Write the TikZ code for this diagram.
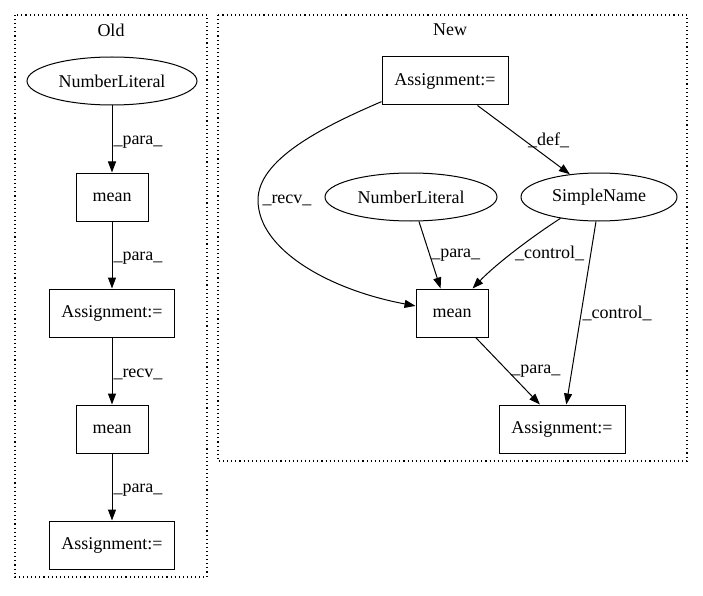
\documentclass[tikz,border=0pt]{standalone}
\usepackage{fontspec}
\setmainfont{Liberation Serif}
\usetikzlibrary{arrows.meta,shapes.geometric}
\tikzset{
	box/.style={draw, rectangle, minimum height=48pt, inner sep=2pt, line width=1pt},
	ellip/.style={draw, ellipse, minimum height=48pt, inner sep=1pt, line width=1pt},
	conn/.style={-{Triangle[length=11pt,width=8pt]}, line width=1pt},
	lbl/.style={inner sep=1pt},
	cluster/.style={line width=1.1pt, dash pattern=on 1.1pt off 3pt}
}
\begin{document}
\begin{tikzpicture}[x=1pt, y=-1pt, font=\fontsize{18}{20}\selectfont]
		\useasboundingbox (0,0) rectangle (703,596);
		
		% zeichne Cluster
		\draw[cluster] (15,15) rectangle (207,577);
		\draw[cluster] (218,15) rectangle (687,461);
		\node (oldtitle) at (111,30) {Old};
		\node (newtitle) at (450,30) {New};
		
		% Knoten alt
		\node[ellip, minimum width=170pt] (oldnum) at (112,81) {NumberLiteral};
		\node[box, minimum width=72pt] (oldmeanA) at (112,197) {mean};
		\node[box, minimum width=125pt] (oldassignA) at (112,313) {Assignment:=};
		\node[box, minimum width=72pt] (oldmeanB) at (112,429) {mean};
		\node[box, minimum width=125pt] (oldassignB) at (112,545) {Assignment:=};
		
		% Kanten alt
		\draw[conn] (oldnum) -- (oldmeanA) node[lbl, right, pos=0.55] {\_para\_};
		\draw[conn] (oldmeanA) -- (oldassignA) node[lbl, right, pos=0.55] {\_para\_};
		\draw[conn] (oldassignA) -- (oldmeanB) node[lbl, right, pos=0.55] {\_recv\_};
		\draw[conn] (oldmeanB) -- (oldassignB) node[lbl, right, pos=0.55] {\_para\_};
		
		% Knoten neu
		\node[box, minimum width=126pt] (newassignA) at (445,81) {Assignment:=};
		\node[ellip, minimum width=172pt] (newnum) at (411,197) {NumberLiteral};
		\node[ellip, minimum width=156pt] (simplename) at (599,197) {SimpleName};
		\node[box, minimum width=72pt] (newmean) at (452,313) {mean};
		\node[box, minimum width=126pt] (newassignB) at (562,429) {Assignment:=};
		
		% Kanten neu
		\draw[conn] (newassignA.323) -- (simplename.142) node[lbl, right=3pt, pos=0.5] {\_def\_};
		\draw[conn] (newassignA.198) .. controls (320,128) and (258,160) .. (258,200)
			node[lbl, right=3pt] {\_recv\_}
			.. controls (258,250) and (330,290) .. (newmean.169);
		\draw[conn] (newnum.288) -- (newmean.115) node[lbl, right, pos=0.5] {\_para\_};
		\draw[conn] (simplename.209) .. controls (530,238) and (495,265) .. (newmean.50)
			node[lbl, right=2pt, pos=0.52] {\_control\_};
		\draw[conn] (simplename.263) -- (newassignB.80) node[lbl, right, pos=0.5] {\_control\_};
		\draw[conn] (newmean.314) -- (newassignB.132) node[lbl, right=2pt, pos=0.5] {\_para\_};
	\end{tikzpicture}
\end{document}
